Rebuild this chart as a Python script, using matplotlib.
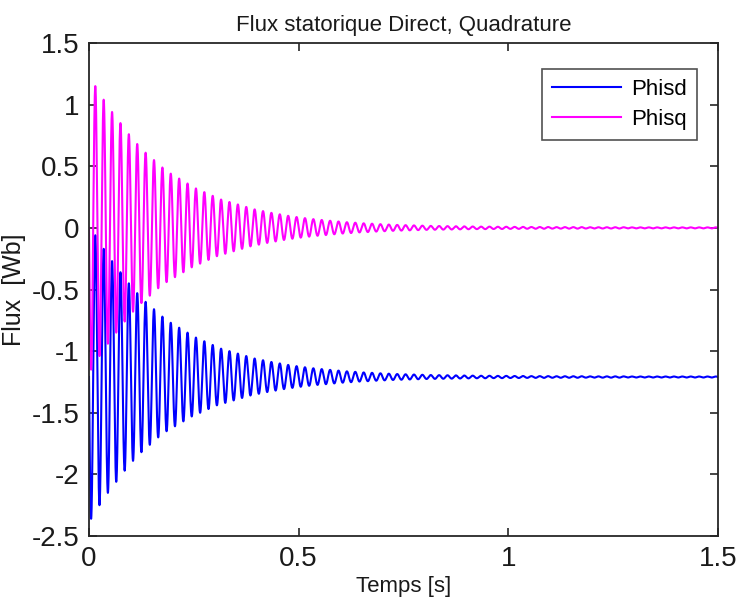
import numpy as np
import matplotlib
matplotlib.use("Agg")
import matplotlib.pyplot as plt
from matplotlib import font_manager

# ---------------- data ----------------
title = "Flux statorique Direct, Quadrature"
xlabel = "Temps [s]"
ylabel = "Flux  [Wb]"
series_names = ["Phisd", "Phisq"]

f_grid = 50.0            # oscillation frequency (one cycle per 0.02 s)
phisd_mean = -1.21       # steady value of Phisd
phisq_mean = 0.0         # steady value of Phisq

# oscillation amplitude of each 0.02 s cycle (75 cycles over 1.5 s)
cycle_amp = [
    1.15, 1.04, 0.94, 0.85, 0.76, 0.68, 0.61, 0.55, 0.49, 0.44,
    0.40, 0.36, 0.32, 0.29, 0.26, 0.23, 0.21, 0.19, 0.17, 0.15,
    0.136, 0.122, 0.110, 0.098, 0.088, 0.079, 0.071, 0.064, 0.058, 0.052,
    0.046, 0.042, 0.037, 0.034, 0.030, 0.027, 0.024, 0.022, 0.020, 0.018,
    0.016, 0.015, 0.014, 0.013, 0.012, 0.011, 0.010, 0.010, 0.009, 0.009,
    0.008, 0.008, 0.007, 0.007, 0.007, 0.006, 0.006, 0.006, 0.006, 0.005,
    0.005, 0.005, 0.005, 0.005, 0.004, 0.004, 0.004, 0.004, 0.004, 0.004,
    0.004, 0.004, 0.004, 0.004, 0.004,
]

xticks = [0, 0.5, 1, 1.5]
xticklabels = ["0", "0.5", "1", "1.5"]
yticks = [-2.5, -2, -1.5, -1, -0.5, 0, 0.5, 1, 1.5]
yticklabels = ["-2.5", "-2", "-1.5", "-1", "-0.5", "0", "0.5", "1", "1.5"]

# ---------------- build curves ----------------
t = np.linspace(0, 1.5, 30001)
k = np.minimum((t * f_grid).astype(int), len(cycle_amp) - 1)
amp = np.asarray(cycle_amp)[k]
carrier = -np.sin(2 * np.pi * f_grid * t)
phisd = phisd_mean + amp * carrier
phisq = phisq_mean + amp * carrier

# ---------------- fonts ----------------
entries = font_manager.fontManager.ttflist
names = {f.name for f in entries}
condensed = [f.name for f in entries
             if str(f.stretch) in ("condensed", "semi-condensed", "75", "87")
             and f.name in ("Liberation Sans Narrow", "DejaVu Sans", "Open Sans",
                            "Roboto", "Noto Sans", "Lato", "Inter")]
fam = []
if "Liberation Sans Narrow" in names:
    fam.append("Liberation Sans Narrow")
    narrow = True
else:
    narrow = False
fam += [n for n in ["Liberation Sans", "DejaVu Sans"] if n in names]
plt.rcParams["font.family"] = fam

# ---------------- figure ----------------
fig = plt.figure(figsize=(7.37, 6.08), dpi=100)
ax = fig.add_axes([89 / 737, 1 - 536 / 608, (718 - 89) / 737, (536 - 43) / 608])

ax.plot(t, phisd, color=(0, 0, 1), lw=1.5, label=series_names[0])
ax.plot(t, phisq, color=(1, 0, 1), lw=1.5, label=series_names[1])

ax.set_xlim(0, 1.5)
ax.set_ylim(-2.5, 1.5)
ax.set_xticks(xticks)
ax.set_xticklabels(xticklabels)
ax.set_yticks(yticks)
ax.set_yticklabels(yticklabels)

axcol = (0.15, 0.15, 0.15)
txtcol = (0.1, 0.1, 0.1)
for s in ax.spines.values():
    s.set_linewidth(1.3)
    s.set_color(axcol)
ax.tick_params(direction="in", length=6, width=1.2, colors=axcol,
               top=True, right=True, labelsize=20, pad=7)
for lab in ax.get_xticklabels() + ax.get_yticklabels():
    lab.set_color(txtcol)

ax.set_title(title, fontsize=16, color=txtcol, pad=9)
ax.set_xlabel(xlabel, fontsize=16, color=txtcol, labelpad=3)
ax.set_ylabel(ylabel, fontsize=18, color=txtcol, labelpad=4)

leg = ax.legend(loc="upper right", bbox_to_anchor=(0.9665, 0.948), fontsize=16,
                frameon=True, fancybox=False, edgecolor=axcol,
                handlelength=3.1, handletextpad=0.45, borderpad=0.45,
                labelspacing=0.4, borderaxespad=0.0)
leg.get_frame().set_linewidth(1.2)

fig.savefig("out.png", dpi=100, facecolor="white")
